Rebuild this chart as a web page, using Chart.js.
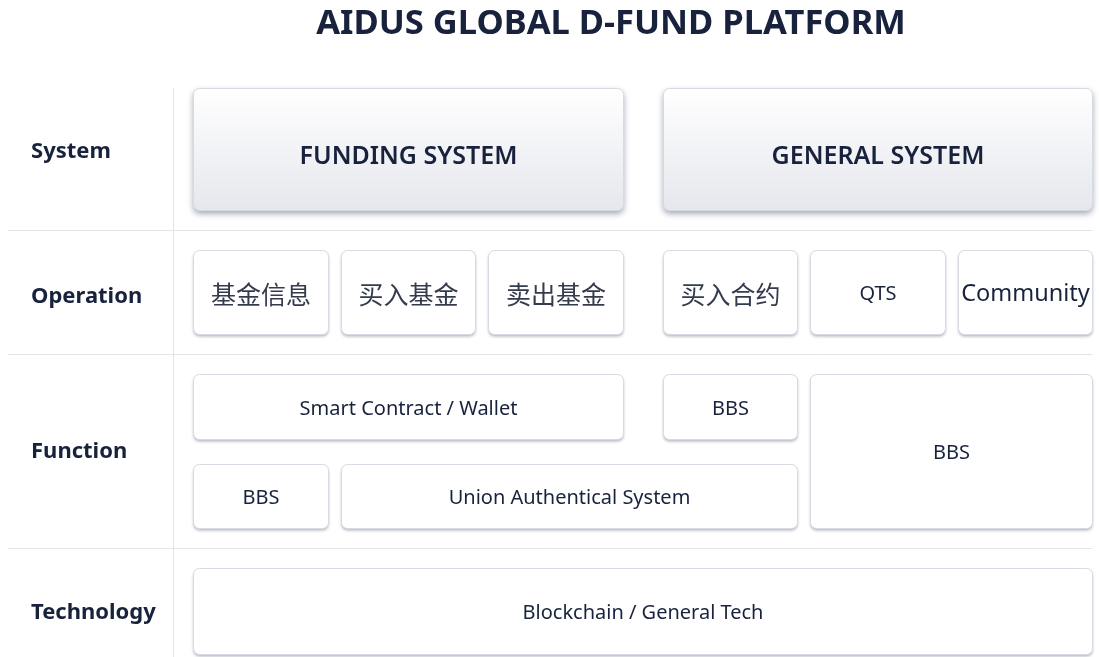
<!DOCTYPE html>
<html>
<head>
<meta charset="utf-8">
<title>AIDUS GLOBAL D-FUND PLATFORM</title>
<script src="https://cdn.jsdelivr.net/npm/chart.js@4.4.1/dist/chart.umd.min.js"></script>
<style>
  html, body { margin: 0; padding: 0; background: #ffffff; }
  #wrap { width: 1099px; height: 657px; }
</style>
</head>
<body>
<div id="wrap"><canvas id="diagrama" width="1099" height="657"></canvas></div>
<script>
// datos del diagrama
const tituloPlataforma = 'AIDUS GLOBAL D-FUND PLATFORM';
const filas = ['System', 'Operation', 'Function', 'Technology'];

const cajas = ['FUNDING SYSTEM', 'GENERAL SYSTEM',
  '基金信息', '买入基金', '卖出基金', '买入合约', 'QTS', 'Community',
  'Smart Contract / Wallet', 'BBS', 'BBS', 'BBS', 'Union Authentical System',
  'Blockchain / General Tech'];
const cajaFila   = [0, 0, 1, 1, 1, 1, 1, 1, 2, 2, 2, 2, 2, 3];
const cajaColumna = [0, 3, 0, 1, 2, 3, 4, 5, 0, 3, 4, 0, 1, 0];
const cajaAncho  = [3, 3, 1, 1, 1, 1, 1, 1, 3, 1, 2, 1, 3, 6];
const cajaCarril = [0, 0, 0, 0, 0, 0, 0, 0, 0, 0, 0, 1, 1, 0];
const cajaAlto   = [1, 1, 1, 1, 1, 1, 1, 1, 1, 1, 2, 1, 1, 1];
const carrilesPorFila = [1, 1, 2, 1];

// disposicion (unidades de las escalas)
const limitesFila = [68, 230, 354, 548, 674];
const ajusteEtiqueta = [3, 5, 1, 2];
const margenFila = 20;
const huecoCarril = 25;
const huecoGrupo = 0.186;   // separacion entre los dos grupos de columnas
const anchoColumna = 0.912;
const xEtiqueta = -1.098;
const xDivisor = -0.1356;
const xLineaIni = -1.254;
const xTitulo = 2.834;

const colorTexto = '#18223d';

function inicioColumna(c) {
  return c + (c >= 3 ? huecoGrupo : 0);
}

function fuenteCaja(fila, texto) {
  if (/[\u4e00-\u9fff]/.test(texto)) return '25px "Noto Sans CJK SC"';
  if (fila === 0) return '600 25px "Noto Sans"';
  if (texto === 'Community') return '23.5px "Noto Sans"';
  return '20px "Noto Sans"';
}

const pluginDiagrama = {
  id: 'diagrama',
  beforeDraw(chart) {
    const ctx = chart.ctx;
    const x = chart.scales.x;
    const y = chart.scales.y;
    ctx.save();
    ctx.fillStyle = '#ffffff';
    ctx.fillRect(0, 0, chart.width, chart.height);

    // titulo
    ctx.fillStyle = colorTexto;
    ctx.font = 'bold 34.5px "Noto Sans"';
    ctx.textAlign = 'center';
    ctx.textBaseline = 'middle';
    ctx.fillText(tituloPlataforma, x.getPixelForValue(xTitulo), y.getPixelForValue(24));

    // lineas divisorias
    ctx.strokeStyle = '#e2e5eb';
    ctx.lineWidth = 1;
    ctx.beginPath();
    const xd = Math.round(x.getPixelForValue(xDivisor)) + 0.5;
    ctx.moveTo(xd, y.getPixelForValue(limitesFila[0] + margenFila));
    ctx.lineTo(xd, chart.height);
    for (let i = 1; i < filas.length; i++) {
      const yy = Math.round(y.getPixelForValue(limitesFila[i])) + 0.5;
      ctx.moveTo(x.getPixelForValue(xLineaIni), yy);
      ctx.lineTo(x.getPixelForValue(inicioColumna(5) + anchoColumna), yy);
    }
    ctx.stroke();

    // etiquetas de fila
    ctx.textAlign = 'left';
    ctx.font = 'bold 22px "Noto Sans"';
    filas.forEach((f, i) => {
      const yc = (limitesFila[i] + limitesFila[i + 1]) / 2 + ajusteEtiqueta[i];
      ctx.fillText(f, x.getPixelForValue(xEtiqueta), y.getPixelForValue(yc));
    });

    // cajas
    cajas.forEach((texto, i) => {
      const fila = cajaFila[i];
      const top = limitesFila[fila] + margenFila;
      const bottom = limitesFila[fila + 1] - margenFila;
      const n = carrilesPorFila[fila];
      const altoCarril = (bottom - top - huecoCarril * (n - 1)) / n;
      const v0 = top + cajaCarril[i] * (altoCarril + huecoCarril);
      const v1 = v0 + cajaAlto[i] * altoCarril + (cajaAlto[i] - 1) * huecoCarril;
      const c0 = inicioColumna(cajaColumna[i]);
      const c1 = inicioColumna(cajaColumna[i] + cajaAncho[i] - 1) + anchoColumna;

      const px0 = Math.round(x.getPixelForValue(c0)) + 0.5;
      const px1 = Math.round(x.getPixelForValue(c1)) + 0.5;
      const py0 = Math.round(y.getPixelForValue(v0)) + 0.5;
      const py1 = Math.round(y.getPixelForValue(v1)) + 0.5;

      ctx.save();
      ctx.beginPath();
      ctx.roundRect(px0, py0, px1 - px0, py1 - py0, 6);
      if (fila === 0) {
        const g = ctx.createLinearGradient(0, py0, 0, py1);
        g.addColorStop(0, '#ffffff');
        g.addColorStop(1, '#e5e7ed');
        ctx.fillStyle = g;
        ctx.shadowColor = 'rgba(40, 50, 80, 0.45)';
        ctx.shadowBlur = 6;
        ctx.shadowOffsetY = 3;
      } else {
        ctx.fillStyle = '#ffffff';
        ctx.shadowColor = 'rgba(40, 50, 80, 0.35)';
        ctx.shadowBlur = 3;
        ctx.shadowOffsetY = 2;
      }
      ctx.fill();
      ctx.restore();
      ctx.strokeStyle = '#d6dae2';
      ctx.lineWidth = 1;
      ctx.beginPath();
      ctx.roundRect(px0, py0, px1 - px0, py1 - py0, 6);
      ctx.stroke();

      ctx.fillStyle = /[\u4e00-\u9fff]/.test(texto) ? '#343b4d' : colorTexto;
      ctx.font = fuenteCaja(fila, texto);
      ctx.textAlign = 'center';
      ctx.textBaseline = 'middle';
      const yc = (py0 + py1) / 2 + (fila === 0 ? 7 : 2);
      ctx.fillText(texto, (px0 + px1) / 2, yc);
    });
    ctx.restore();
  }
};

new Chart(document.getElementById('diagrama').getContext('2d'), {
  type: 'scatter',
  data: { datasets: [{ data: [], pointRadius: 0 }] },
  options: {
    responsive: false,
    animation: false,
    layout: { padding: 0 },
    plugins: { legend: { display: false }, tooltip: { enabled: false }, title: { display: false } },
    scales: {
      x: { type: 'linear', min: -193 / 147.5, max: 906 / 147.5, display: false },
      y: { type: 'linear', min: 0, max: 657, reverse: true, display: false }
    }
  },
  plugins: [pluginDiagrama]
});
</script>
</body>
</html>
